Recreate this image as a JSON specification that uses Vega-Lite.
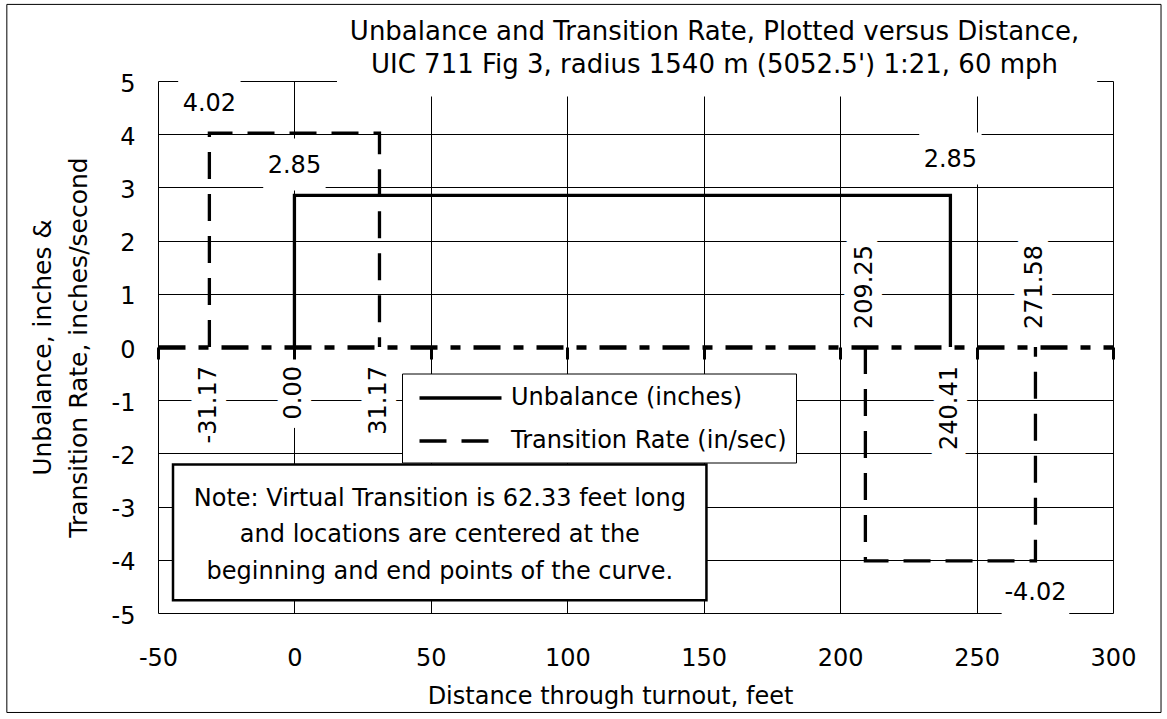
{
  "$schema": "https://vega.github.io/schema/vega-lite/v6.json",
  "width": 955,
  "height": 532,
  "autosize": {"type": "none"},
  "padding": {"left": 158, "top": 81, "right": 54, "bottom": 106},
  "background": "white",
  "config": {"view": {"stroke": null}, "font": "DejaVu Sans"},
  "title": {
    "text": ["Unbalance and Transition Rate, Plotted versus Distance,", "UIC 711 Fig 3, radius 1540 m (5052.5') 1:21, 60 mph"],
    "font": "DejaVu Sans", "fontSize": 26, "fontWeight": "normal", "color": "black",
    "lineHeight": 33, "anchor": "middle", "frame": "group", "dx": 79, "offset": -74
  },
  "datasets": {
    "lines": [
      {"series": "Unbalance (inches)", "seg": "U", "i": 0, "x": 0, "y": 0},
      {"series": "Unbalance (inches)", "seg": "U", "i": 1, "x": 0, "y": 2.85},
      {"series": "Unbalance (inches)", "seg": "U", "i": 2, "x": 240.41, "y": 2.85},
      {"series": "Unbalance (inches)", "seg": "U", "i": 3, "x": 240.41, "y": 0},
      {"series": "Transition Rate (in/sec)", "seg": "T1", "i": 0, "x": -31.17, "y": 0},
      {"series": "Transition Rate (in/sec)", "seg": "T1", "i": 1, "x": -31.17, "y": 4.02},
      {"series": "Transition Rate (in/sec)", "seg": "T1", "i": 2, "x": 31.17, "y": 4.02},
      {"series": "Transition Rate (in/sec)", "seg": "T1", "i": 3, "x": 31.17, "y": 0},
      {"series": "Transition Rate (in/sec)", "seg": "T2", "i": 0, "x": 209.25, "y": 0},
      {"series": "Transition Rate (in/sec)", "seg": "T2", "i": 1, "x": 209.25, "y": -4.02},
      {"series": "Transition Rate (in/sec)", "seg": "T2", "i": 2, "x": 271.58, "y": -4.02},
      {"series": "Transition Rate (in/sec)", "seg": "T2", "i": 3, "x": 271.58, "y": 0}
    ],
    "labels": [
      {"x": -31.17, "y": 4.02, "label": "4.02"},
      {"x": 0, "y": 2.85, "label": "2.85"},
      {"x": 240.41, "y": 2.85, "label": "2.85"},
      {"x": 271.58, "y": -4.02, "label": "-4.02"},
      {"x": -31.17, "y": 0, "label": "-31.17"},
      {"x": 0, "y": 0, "label": "0.00"},
      {"x": 31.17, "y": 0, "label": "31.17"},
      {"x": 209.25, "y": 0, "label": "209.25"},
      {"x": 240.41, "y": 0, "label": "240.41"},
      {"x": 271.58, "y": 0, "label": "271.58"}
    ]
  },
  "resolve": {"axis": {"x": "independent", "y": "independent"}},
  "layer": [
    {
      "data": {"values": [{}]},
      "mark": {"type": "rect", "color": "white"},
      "encoding": {
        "x": {"datum": 15.6, "type": "quantitative", "scale": {"domain": [-50, 300], "nice": false, "zero": false},
          "axis": {
            "orient": "bottom", "values": [-50, 0, 50, 100, 150, 200, 250, 300],
            "grid": true, "gridColor": "black", "gridWidth": 1,
            "domain": false, "ticks": false, "tickSize": 0,
            "labelExpr": "'' + datum.value",
            "labelFont": "DejaVu Sans", "labelFontSize": 24, "labelColor": "black",
            "labelPadding": 33, "labelBaseline": "top", "labelFlush": false, "labelOverlap": false,
            "title": "Distance through turnout, feet", "titleFont": "DejaVu Sans", "titleFontSize": 24,
            "titleFontWeight": "normal", "titleColor": "black", "titlePadding": 14, "titleX": 452
          }},
        "x2": {"datum": 294.2},
        "y": {"datum": 4.71, "type": "quantitative", "scale": {"domain": [-5, 5], "nice": false, "zero": false},
          "axis": {
            "orient": "left", "values": [-5, -4, -3, -2, -1, 0, 1, 2, 3, 4, 5],
            "grid": true, "gridColor": "black", "gridWidth": 1,
            "gridOpacity": {"condition": {"test": "datum.value === 0", "value": 0}, "value": 1},
            "domain": false, "ticks": false, "tickSize": 0,
            "labelExpr": "'' + datum.value",
            "labelFont": "DejaVu Sans", "labelFontSize": 24, "labelColor": "black",
            "labelPadding": 23, "labelOffset": 3,
            "title": ["Unbalance, inches &", "Transition Rate, inches/second"],
            "titleFont": "DejaVu Sans", "titleFontSize": 25, "titleFontWeight": "normal", "titleColor": "black",
            "titleLineHeight": 36, "titlePadding": 20
          }},
        "y2": {"datum": 5.02}
      }
    },
    {
      "data": {"name": "labels"},
      "transform": [{"filter": "datum.y > 0 && datum.x < 100"}],
      "mark": {"type": "point", "shape": "M-1.2,-1L1.2,-1L1.2,1L-1.2,1Z", "size": 2704, "filled": true, "color": "white", "opacity": 1, "strokeWidth": 0, "yOffset": -31},
      "encoding": {
        "x": {"field": "x", "type": "quantitative", "scale": {"domain": [-50, 300], "nice": false, "zero": false}, "axis": null},
        "y": {"field": "y", "type": "quantitative", "scale": {"domain": [-5, 5], "nice": false, "zero": false}, "axis": null}
      }
    },
    {
      "data": {"name": "labels"},
      "transform": [{"filter": "datum.y > 0 && datum.x > 100"}],
      "mark": {"type": "point", "shape": "M-1.2,-1L1.2,-1L1.2,1L-1.2,1Z", "size": 2704, "filled": true, "color": "white", "opacity": 1, "strokeWidth": 0, "yOffset": -37},
      "encoding": {
        "x": {"field": "x", "type": "quantitative", "scale": {"domain": [-50, 300], "nice": false, "zero": false}, "axis": null},
        "y": {"field": "y", "type": "quantitative", "scale": {"domain": [-5, 5], "nice": false, "zero": false}, "axis": null}
      }
    },
    {
      "data": {"name": "labels"},
      "transform": [{"filter": "datum.y < 0"}],
      "mark": {"type": "point", "shape": "M-1.3,-1L1.3,-1L1.3,1L-1.3,1Z", "size": 2704, "filled": true, "color": "white", "opacity": 1, "strokeWidth": 0, "yOffset": 32},
      "encoding": {
        "x": {"field": "x", "type": "quantitative", "scale": {"domain": [-50, 300], "nice": false, "zero": false}, "axis": null},
        "y": {"field": "y", "type": "quantitative", "scale": {"domain": [-5, 5], "nice": false, "zero": false}, "axis": null}
      }
    },
    {
      "data": {"name": "labels"},
      "transform": [{"filter": "datum.y == 0 && (datum.x < 100 || datum.label == '240.41')"}],
      "mark": {"type": "text", "angle": 270, "align": "right", "baseline": "middle", "dx": -19, "font": "DejaVu Sans", "fontSize": 24, "color": "white", "stroke": "white", "strokeWidth": 20, "strokeJoin": "round"},
      "encoding": {
        "x": {"field": "x", "type": "quantitative", "scale": {"domain": [-50, 300], "nice": false, "zero": false}, "axis": null},
        "y": {"field": "y", "type": "quantitative", "scale": {"domain": [-5, 5], "nice": false, "zero": false}, "axis": null},
        "text": {"field": "label"}
      }
    },
    {
      "data": {"name": "labels"},
      "transform": [{"filter": "datum.y == 0 && datum.x > 100 && datum.label != '240.41'"}],
      "mark": {"type": "text", "angle": 270, "align": "left", "baseline": "middle", "dx": 18, "font": "DejaVu Sans", "fontSize": 24, "color": "white", "stroke": "white", "strokeWidth": 20, "strokeJoin": "round"},
      "encoding": {
        "x": {"field": "x", "type": "quantitative", "scale": {"domain": [-50, 300], "nice": false, "zero": false}, "axis": null},
        "y": {"field": "y", "type": "quantitative", "scale": {"domain": [-5, 5], "nice": false, "zero": false}, "axis": null},
        "text": {"field": "label"}
      }
    },
    {
      "data": {"values": [{}]},
      "mark": {"type": "rect", "fill": "white", "stroke": "black", "strokeWidth": 2.5},
      "encoding": {
        "x": {"datum": -44.5, "type": "quantitative", "scale": {"domain": [-50, 300], "nice": false, "zero": false}, "axis": null},
        "x2": {"datum": 151},
        "y": {"datum": -2.21, "type": "quantitative", "scale": {"domain": [-5, 5], "nice": false, "zero": false}, "axis": null},
        "y2": {"datum": -4.76}
      }
    },
    {
      "data": {"values": [{}]},
      "mark": {"type": "text", "text": ["Note: Virtual Transition is 62.33 feet long", "and locations are centered at the", "beginning and end points of the curve."], "align": "center", "baseline": "middle", "lineHeight": 36.5, "font": "DejaVu Sans", "fontSize": 24, "color": "black"},
      "encoding": {
        "x": {"datum": 53.3, "type": "quantitative", "scale": {"domain": [-50, 300], "nice": false, "zero": false}, "axis": null},
        "y": {"datum": -2.85, "type": "quantitative", "scale": {"domain": [-5, 5], "nice": false, "zero": false}, "axis": null}
      }
    },
    {
      "data": {"name": "lines"},
      "mark": {"type": "line", "color": "black", "strokeWidth": 3.3, "strokeCap": "butt", "strokeJoin": "miter"},
      "encoding": {
        "x": {"field": "x", "type": "quantitative", "scale": {"domain": [-50, 300], "nice": false, "zero": false},
          "axis": {
            "orient": "bottom", "offset": {"expr": "scale('y', 0) - height"},
            "values": [-50, 0, 50, 100, 150, 200, 250, 300],
            "grid": false, "labels": false, "ticks": true, "tickSize": 12, "tickWidth": 3, "tickColor": "black",
            "domain": true, "domainColor": "black", "domainWidth": 4.5, "domainDash": [27, 13, 10, 13], "domainCap": "butt",
            "title": null, "zindex": 1
          }},
        "y": {"field": "y", "type": "quantitative", "scale": {"domain": [-5, 5], "nice": false, "zero": false}, "axis": null},
        "strokeDash": {"field": "series", "type": "nominal",
          "scale": {"domain": ["Unbalance (inches)", "Transition Rate (in/sec)"], "range": [[1, 0], [27, 15]]},
          "legend": {
            "title": null, "orient": "none", "legendX": 244, "legendY": 292.5, "direction": "vertical",
            "fillColor": "white", "strokeColor": "black", "padding": 9,
            "symbolType": "M-3,0L3,0", "symbolSize": 747, "symbolStrokeWidth": 3.3, "symbolStrokeColor": "black", "symbolOffset": 34,
            "labelFont": "DejaVu Sans", "labelFontSize": 24, "labelColor": "black", "labelOffset": 35, "labelLimit": 600,
            "rowPadding": 15
          }},
        "detail": {"field": "seg"},
        "order": {"field": "i", "type": "quantitative"}
      }
    },
    {
      "data": {"name": "labels"},
      "transform": [{"filter": "datum.y > 0 && datum.x < 100"}],
      "mark": {"type": "text", "align": "center", "baseline": "middle", "dy": -29.5, "font": "DejaVu Sans", "fontSize": 24, "color": "black"},
      "encoding": {
        "x": {"field": "x", "type": "quantitative", "scale": {"domain": [-50, 300], "nice": false, "zero": false}, "axis": null},
        "y": {"field": "y", "type": "quantitative", "scale": {"domain": [-5, 5], "nice": false, "zero": false}, "axis": null},
        "text": {"field": "label"}
      }
    },
    {
      "data": {"name": "labels"},
      "transform": [{"filter": "datum.y > 0 && datum.x > 100"}],
      "mark": {"type": "text", "align": "center", "baseline": "middle", "dy": -35.5, "font": "DejaVu Sans", "fontSize": 24, "color": "black"},
      "encoding": {
        "x": {"field": "x", "type": "quantitative", "scale": {"domain": [-50, 300], "nice": false, "zero": false}, "axis": null},
        "y": {"field": "y", "type": "quantitative", "scale": {"domain": [-5, 5], "nice": false, "zero": false}, "axis": null},
        "text": {"field": "label"}
      }
    },
    {
      "data": {"name": "labels"},
      "transform": [{"filter": "datum.y < 0"}],
      "mark": {"type": "text", "align": "center", "baseline": "middle", "dy": 32.5, "font": "DejaVu Sans", "fontSize": 24, "color": "black"},
      "encoding": {
        "x": {"field": "x", "type": "quantitative", "scale": {"domain": [-50, 300], "nice": false, "zero": false}, "axis": null},
        "y": {"field": "y", "type": "quantitative", "scale": {"domain": [-5, 5], "nice": false, "zero": false}, "axis": null},
        "text": {"field": "label"}
      }
    },
    {
      "data": {"name": "labels"},
      "transform": [{"filter": "datum.y == 0 && (datum.x < 100 || datum.label == '240.41')"}],
      "mark": {"type": "text", "angle": 270, "align": "right", "baseline": "middle", "dx": -19, "font": "DejaVu Sans", "fontSize": 24, "color": "black"},
      "encoding": {
        "x": {"field": "x", "type": "quantitative", "scale": {"domain": [-50, 300], "nice": false, "zero": false}, "axis": null},
        "y": {"field": "y", "type": "quantitative", "scale": {"domain": [-5, 5], "nice": false, "zero": false}, "axis": null},
        "text": {"field": "label"}
      }
    },
    {
      "data": {"name": "labels"},
      "transform": [{"filter": "datum.y == 0 && datum.x > 100 && datum.label != '240.41'"}],
      "mark": {"type": "text", "angle": 270, "align": "left", "baseline": "middle", "dx": 18, "font": "DejaVu Sans", "fontSize": 24, "color": "black"},
      "encoding": {
        "x": {"field": "x", "type": "quantitative", "scale": {"domain": [-50, 300], "nice": false, "zero": false}, "axis": null},
        "y": {"field": "y", "type": "quantitative", "scale": {"domain": [-5, 5], "nice": false, "zero": false}, "axis": null},
        "text": {"field": "label"}
      }
    },
    {
      "data": {"values": [{}]},
      "mark": {"type": "rect", "fillOpacity": 0, "stroke": "black", "strokeWidth": 1},
      "encoding": {
        "x": {"datum": -105.4, "type": "quantitative", "scale": {"domain": [-50, 300], "nice": false, "zero": false}, "axis": null},
        "x2": {"datum": 317.6},
        "y": {"datum": 6.44, "type": "quantitative", "scale": {"domain": [-5, 5], "nice": false, "zero": false}, "axis": null},
        "y2": {"datum": -6.87}
      }
    }
  ]
}
